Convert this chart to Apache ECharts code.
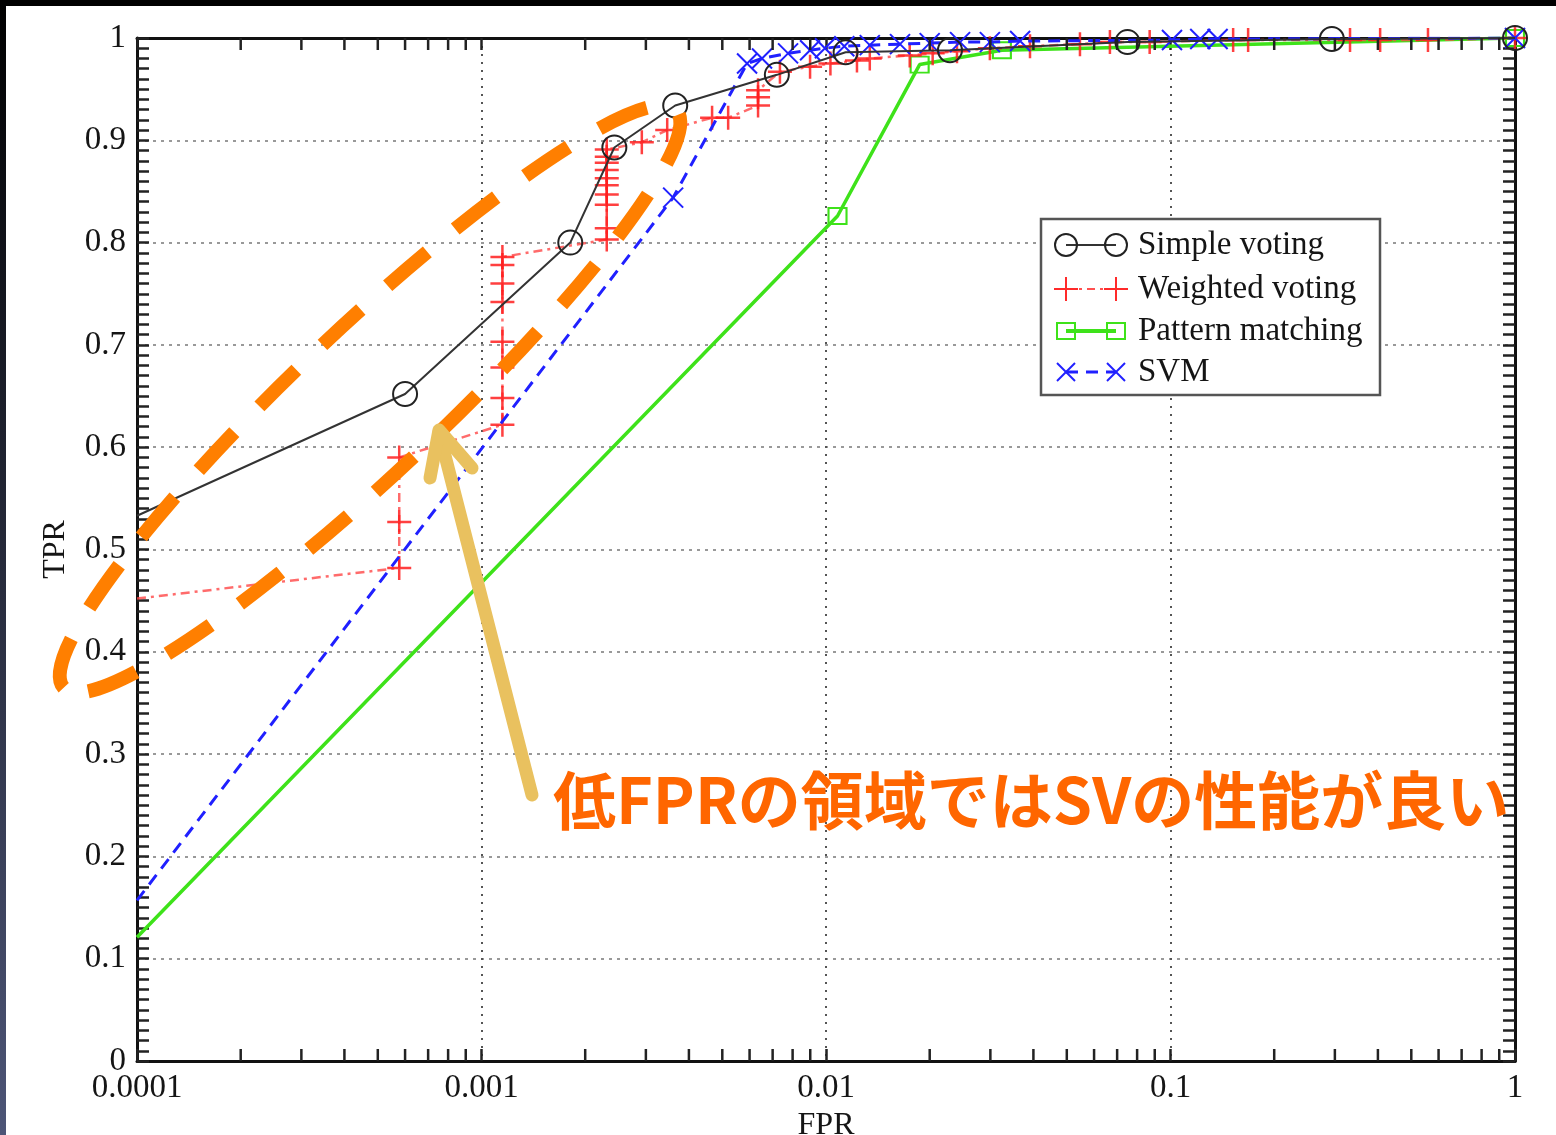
<!DOCTYPE html>
<html>
<head>
<meta charset="utf-8">
<script src="https://cdn.jsdelivr.net/npm/echarts@6/dist/echarts.min.js"></script>
<style>
html, body { margin: 0; padding: 0; background: #fff; }
#main { width: 1556px; height: 1135px; }
</style>
</head>
<body>
<div id="main"></div>
<script>
// tick labels
const xTickLabels = ['0.0001', '0.001', '0.01', '0.1', '1'];
const yTickLabels = ['0', '0.1', '0.2', '0.3', '0.4', '0.5', '0.6', '0.7', '0.8', '0.9', '1'];
const xMinorTicks = [
    2e-4, 3e-4, 4e-4, 5e-4, 6e-4, 7e-4, 8e-4, 9e-4,
    2e-3, 3e-3, 4e-3, 5e-3, 6e-3, 7e-3, 8e-3, 9e-3,
    2e-2, 3e-2, 4e-2, 5e-2, 6e-2, 7e-2, 8e-2, 9e-2,
    0.2, 0.3, 0.4, 0.5, 0.6, 0.7, 0.8, 0.9
];

const seriesNames = ['Simple voting', 'Weighted voting', 'Pattern matching', 'SVM'];

// Simple voting
const simpleFpr = [0.0001, 0.0006, 0.00181, 0.00243, 0.00365, 0.0072, 0.0114, 0.0229, 0.075, 0.294, 1];
const simpleTpr = [0.533, 0.652, 0.800, 0.893, 0.934, 0.964, 0.986, 0.988, 0.996, 0.999, 1.0];

// Weighted voting
const weightedFpr = [
    0.0001, 0.000577, 0.000577, 0.000577,
    0.00115, 0.00115, 0.00115, 0.00115, 0.00115, 0.00115, 0.00115, 0.00115,
    0.00231, 0.00231, 0.00231, 0.00231, 0.00231, 0.00231, 0.00231, 0.00231, 0.00231, 0.00231,
    0.00292, 0.00346, 0.00467, 0.0052, 0.00635, 0.00635, 0.00635,
    0.00735, 0.00899, 0.0103, 0.0123, 0.0134, 0.0175, 0.0204, 0.024, 0.0299, 0.0391,
    0.0546, 0.0667, 0.087, 0.152, 0.168, 0.332, 0.406, 0.559, 1
];
const weightedTpr = [
    0.452, 0.482, 0.527, 0.590,
    0.622, 0.648, 0.678, 0.703, 0.742, 0.760, 0.778, 0.786,
    0.803, 0.814, 0.837, 0.847, 0.856, 0.863, 0.871, 0.878, 0.884, 0.891,
    0.898, 0.910, 0.922, 0.922, 0.934, 0.942, 0.949,
    0.967, 0.972, 0.975, 0.978, 0.980, 0.983, 0.985, 0.987, 0.990, 0.992,
    0.994, 0.996, 0.996, 0.998, 0.998, 0.998, 0.998, 0.998, 1.0
];

// Pattern matching
const patternFpr = [0.0001, 0.0108, 0.0187, 0.0324, 1];
const patternTpr = [0.121, 0.826, 0.974, 0.988, 1.0];

// SVM
const svmFpr = [0.0001, 0.0036, 0.0059, 0.00652, 0.00776, 0.00899, 0.00993, 0.0113, 0.0134, 0.0164, 0.020, 0.0245, 0.0299, 0.0366, 0.101, 0.122, 0.137, 1];
const svmTpr = [0.157, 0.844, 0.975, 0.980, 0.985, 0.988, 0.990, 0.992, 0.993, 0.994, 0.995, 0.996, 0.996, 0.997, 0.998, 0.999, 0.999, 1.0];

const annotation = '低FPRの領域ではSVの性能が良い';

const serif = 'Liberation Serif';
const inkColor = '#151515';
const plusPath = 'path://M0,5 L10,5 M5,0 L5,10';
const crossPath = 'path://M0,0 L10,10 M10,0 L0,10';

// first point of each curve only starts the line at the left edge
function points(fpr, tpr) {
    return fpr.map((x, i) => i === 0 ? { value: [x, tpr[i]], symbol: 'none' } : [x, tpr[i]]);
}

function xLabel(v) {
    return xTickLabels[Math.round(Math.log10(v) + 4)];
}
function yLabel(v) {
    return yTickLabels[Math.round(v * 10)];
}

const tickStyle = { color: '#222', width: 2.5 };
const frameLine = { show: true, onZero: false, lineStyle: { color: '#111', width: 3 } };

function plus(cx, cy, r, color) {
    return [
        { type: 'line', z: 60, shape: { x1: cx - r, y1: cy, x2: cx + r, y2: cy }, style: { stroke: color, lineWidth: 2 } },
        { type: 'line', z: 60, shape: { x1: cx, y1: cy - r, x2: cx, y2: cy + r }, style: { stroke: color, lineWidth: 2 } }
    ];
}
function cross(cx, cy, r, color) {
    return [
        { type: 'line', z: 60, shape: { x1: cx - r, y1: cy - r, x2: cx + r, y2: cy + r }, style: { stroke: color, lineWidth: 2 } },
        { type: 'line', z: 60, shape: { x1: cx - r, y1: cy + r, x2: cx + r, y2: cy - r }, style: { stroke: color, lineWidth: 2 } }
    ];
}

function legendGraphic() {
    const rows = [245, 289, 331, 372];
    const x1 = 1066, x2 = 1116;
    const els = [{
        type: 'rect', z: 50,
        shape: { x: 1041, y: 219, width: 339, height: 176 },
        style: { fill: '#fff', stroke: '#555', lineWidth: 2.5 }
    }];
    // Simple voting
    els.push({ type: 'line', z: 55, shape: { x1: x1, y1: rows[0], x2: x2, y2: rows[0] }, style: { stroke: '#333', lineWidth: 2 } });
    [x1, x2].forEach(cx => els.push({ type: 'circle', z: 60, shape: { cx: cx, cy: rows[0], r: 11 }, style: { fill: 'none', stroke: '#222', lineWidth: 2 } }));
    // Weighted voting
    els.push({ type: 'line', z: 55, shape: { x1: x1, y1: rows[1], x2: x2, y2: rows[1] }, style: { stroke: '#ff5050', lineWidth: 2, lineDash: [8, 5, 3, 5] } });
    [x1, x2].forEach(cx => plus(cx, rows[1], 12, '#ff2a2a').forEach(e => els.push(e)));
    // Pattern matching
    els.push({ type: 'line', z: 55, shape: { x1: x1, y1: rows[2], x2: x2, y2: rows[2] }, style: { stroke: '#3ee21a', lineWidth: 4 } });
    [x1, x2].forEach(cx => els.push({ type: 'rect', z: 60, shape: { x: cx - 9, y: rows[2] - 8, width: 18, height: 16 }, style: { fill: 'none', stroke: '#3ee21a', lineWidth: 2 } }));
    // SVM
    els.push({ type: 'line', z: 55, shape: { x1: x1, y1: rows[3], x2: x2, y2: rows[3] }, style: { stroke: '#2020ff', lineWidth: 3, lineDash: [12, 8] } });
    [x1, x2].forEach(cx => cross(cx, rows[3], 9, '#2020ff').forEach(e => els.push(e)));
    seriesNames.forEach((name, i) => els.push({
        type: 'text', z: 60, x: 1138, y: rows[i],
        style: { text: name, fill: inkColor, fontSize: 33, fontFamily: serif, verticalAlign: 'middle', align: 'left' }
    }));
    return els;
}

const chartDom = document.getElementById('main');
const myChart = echarts.init(chartDom, null, { renderer: 'canvas' });

const option = {
    animation: false,
    backgroundColor: '#fff',
    grid: { left: 137, right: 41, top: 38, bottom: 74, containLabel: false, outerBoundsMode: 'none' },
    xAxis: [
        {
            type: 'log', logBase: 10, min: 0.0001, max: 1, position: 'bottom',
            name: 'FPR', nameLocation: 'middle', nameGap: 44,
            nameTextStyle: { fontFamily: serif, fontSize: 32, color: inkColor },
            axisLine: frameLine,
            axisTick: { show: true, inside: true, length: 12, lineStyle: tickStyle },
            axisLabel: { formatter: xLabel, fontFamily: serif, fontSize: 33, color: inkColor, margin: 11 },
            splitLine: { show: true, lineStyle: { color: '#555', width: 2, type: [2, 6] } }
        },
        {
            type: 'log', logBase: 10, min: 0.0001, max: 1, position: 'top',
            axisLine: frameLine,
            axisTick: { show: true, inside: true, length: 12, lineStyle: tickStyle },
            axisLabel: { show: false },
            splitLine: { show: false }
        }
    ],
    yAxis: [
        {
            type: 'value', min: 0, max: 1, interval: 0.1, position: 'left',
            name: 'TPR', nameLocation: 'middle', nameGap: 65,
            nameTextStyle: { fontFamily: serif, fontSize: 32, color: inkColor },
            axisLine: frameLine,
            axisTick: { show: true, inside: true, length: 12, lineStyle: tickStyle },
            minorTick: { show: true, splitNumber: 10, length: 12, lineStyle: tickStyle },
            axisLabel: { formatter: yLabel, fontFamily: serif, fontSize: 33, color: inkColor, margin: 11 },
            splitLine: { show: true, lineStyle: { color: '#999', width: 2, type: [3, 5] } }
        },
        {
            type: 'value', min: 0, max: 1, interval: 0.1, position: 'right',
            axisLine: frameLine,
            axisTick: { show: true, inside: true, length: 12, lineStyle: tickStyle },
            minorTick: { show: true, splitNumber: 10, length: 12, lineStyle: tickStyle },
            axisLabel: { show: false },
            splitLine: { show: false }
        }
    ],
    series: [
        {
            name: seriesNames[2],
            type: 'line',
            data: points(patternFpr, patternTpr),
            symbol: 'rect', symbolSize: [18, 16],
            itemStyle: { color: 'rgba(0,0,0,0)', borderColor: '#3ee21a', borderWidth: 2 },
            lineStyle: { color: '#3ee21a', width: 3.5 },
            emphasis: { disabled: true }, z: 2
        },
        {
            name: seriesNames[1],
            type: 'line',
            data: points(weightedFpr, weightedTpr),
            symbol: plusPath, symbolSize: 24,
            itemStyle: { color: 'rgba(255,30,30,0.85)', borderColor: 'rgba(255,30,30,0.85)', borderWidth: 2.5 },
            lineStyle: { color: 'rgba(255,70,70,0.8)', width: 2.5, type: [9, 5, 3, 5] },
            emphasis: { disabled: true }, z: 3
        },
        {
            name: seriesNames[3],
            type: 'line',
            data: points(svmFpr, svmTpr),
            symbol: crossPath, symbolSize: 20,
            itemStyle: { color: '#2020ff', borderColor: '#2020ff', borderWidth: 2 },
            lineStyle: { color: '#2020ff', width: 3, type: [12, 8] },
            emphasis: { disabled: true }, z: 4
        },
        {
            name: seriesNames[0],
            type: 'line',
            data: points(simpleFpr, simpleTpr),
            symbol: 'circle', symbolSize: 24,
            itemStyle: { color: 'rgba(0,0,0,0)', borderColor: '#222', borderWidth: 2 },
            lineStyle: { color: '#333', width: 2 },
            emphasis: { disabled: true }, z: 5
        },
        {
            // log-decade minor ticks on the bottom and top frame
            type: 'custom',
            silent: true,
            clip: false,
            data: xMinorTicks.map(v => [v, 0]),
            encode: { x: 0, y: 1 },
            z: 6,
            renderItem: (params, api) => {
                const b = api.coord([api.value(0), 0]);
                const t = api.coord([api.value(0), 1]);
                return {
                    type: 'group',
                    children: [
                        { type: 'line', shape: { x1: b[0], y1: b[1], x2: b[0], y2: b[1] - 12 }, style: { stroke: '#222', lineWidth: 2.5 } },
                        { type: 'line', shape: { x1: t[0], y1: t[1], x2: t[0], y2: t[1] + 12 }, style: { stroke: '#222', lineWidth: 2.5 } }
                    ]
                };
            }
        }
    ],
    graphic: [
        {
            type: 'rect', z: 200, shape: { x: 0, y: 0, width: 1556, height: 6 }, style: { fill: '#000' }
        },
        {
            type: 'rect', z: 200, shape: { x: 0, y: 0, width: 6, height: 1135 },
            style: {
                fill: new echarts.graphic.LinearGradient(0, 0, 0, 1, [
                    { offset: 0, color: '#000' },
                    { offset: 1, color: '#4d5577' }
                ])
            }
        },
        ...legendGraphic(),
        {
            type: 'ellipse', z: 100, x: 370, y: 399, rotation: 0.756,
            shape: { cx: 0, cy: 0, rx: 421, ry: 72 },
            style: { fill: 'none', stroke: '#ff7f00', lineWidth: 14, lineDash: [52, 36] }
        },
        {
            type: 'line', z: 101,
            shape: { x1: 532, y1: 795, x2: 439, y2: 432 },
            style: { stroke: '#e9c15f', lineWidth: 13, lineCap: 'round' }
        },
        {
            type: 'polyline', z: 101,
            shape: { points: [[430, 478], [439, 430], [472, 468]] },
            style: { stroke: '#e9c15f', lineWidth: 13, lineCap: 'round', lineJoin: 'round', fill: null }
        },
        {
            type: 'text', z: 102, x: 553, y: 800,
            style: {
                text: annotation, fill: '#ff6600', fontSize: 63, fontWeight: 'bold',
                fontFamily: 'Noto Sans CJK JP', verticalAlign: 'middle', align: 'left'
            }
        }
    ]
};

option && myChart.setOption(option);
</script>
</body>
</html>
